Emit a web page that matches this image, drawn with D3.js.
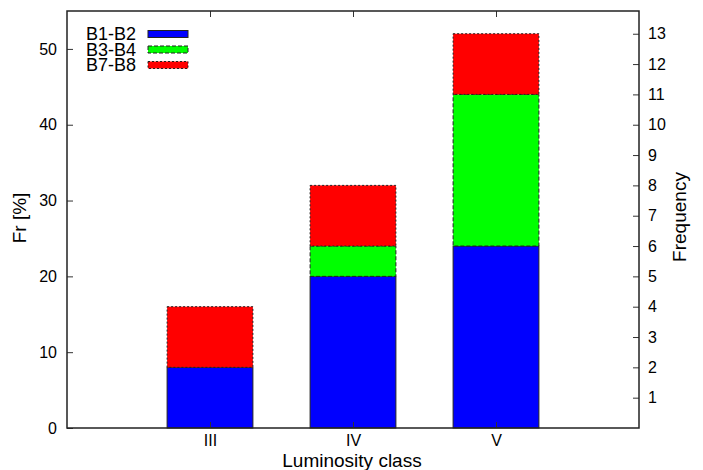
<!DOCTYPE html>
<html>
<head>
<meta charset="utf-8">
<script src="https://d3js.org/d3.v7.min.js"></script>
<style>
  html, body { margin: 0; padding: 0; background: #fff; }
  svg { display: block; font-family: "Liberation Sans", Arial, sans-serif; }
</style>
</head>
<body>
<svg id="chart" width="703" height="470"></svg>
<script>
// ---- data ----
const categories = ["III", "IV", "V"];
const seriesNames = ["B1-B2", "B3-B4", "B7-B8"];
const b12 = [8, 20, 24];   // Fr [%]
const b34 = [0, 4, 20];
const b78 = [8, 8, 8];
const leftTicks = [0, 10, 20, 30, 40, 50];
const rightTicks = [1, 2, 3, 4, 5, 6, 7, 8, 9, 10, 11, 12, 13];

// ---- layout ----
const svg = d3.select("#chart");
const L = 67, R = 639, T = 11, B = 428;
const colors = ["#0000ff", "#00ff00", "#ff0000"];
const dashes = [null, "4,2", "2,2"];

const x = d3.scaleLinear().domain([0, 4]).range([L, R]);
const y = d3.scaleLinear().domain([0, 55]).range([B, T]);
const yR = d3.scaleLinear().domain([0, 55 / 4]).range([B, T]);
const barW = (x(1) - x(0)) * 0.6;

const rows = categories.map((c, i) => ({ cat: c, idx: i + 1, "B1-B2": b12[i], "B3-B4": b34[i], "B7-B8": b78[i] }));
const stacked = d3.stack().keys(seriesNames)(rows);

svg.append("rect").attr("width", 703).attr("height", 470).attr("fill", "#fff");

// bars
stacked.forEach((layer, si) => {
  svg.append("g").selectAll("rect").data(layer).join("rect")
    .attr("x", d => x(d.data.idx) - barW / 2)
    .attr("width", barW)
    .attr("y", d => y(d[1]))
    .attr("height", d => y(d[0]) - y(d[1]))
    .attr("fill", colors[si])
    .attr("stroke", "#222")
    .attr("stroke-width", 1)
    .attr("stroke-dasharray", dashes[si]);
});

// axes
const fs = "16px";
const gL = svg.append("g").attr("transform", `translate(${L},0)`)
  .call(d3.axisLeft(y).tickValues(leftTicks).tickSize(-6).tickPadding(10));
const gR = svg.append("g").attr("transform", `translate(${R},0)`)
  .call(d3.axisRight(yR).tickValues(rightTicks).tickSize(-6).tickPadding(9));
const gB = svg.append("g").attr("transform", `translate(0,${B})`)
  .call(d3.axisBottom(x).tickValues([1, 2, 3]).tickFormat(d => categories[d - 1]).tickSize(-6).tickPadding(7));
const gT = svg.append("g").attr("transform", `translate(0,${T})`)
  .call(d3.axisTop(x).tickValues([1, 2, 3]).tickFormat("").tickSize(-6));
[gL, gR, gB, gT].forEach(g => {
  g.select(".domain").remove();
  g.selectAll("line").attr("stroke", "#333").attr("stroke-width", 1);
  g.selectAll("text").attr("font-size", fs).attr("fill", "#000")
    .attr("font-family", "'Liberation Sans', Arial, sans-serif");
});

// frame
svg.append("rect").attr("x", L).attr("y", T).attr("width", R - L).attr("height", B - T)
  .attr("fill", "none").attr("stroke", "#222").attr("stroke-width", 1.5);

// axis titles
svg.append("text").attr("x", (L + R) / 2 - 1).attr("y", 466.5).attr("text-anchor", "middle")
  .attr("font-size", "19px").text("Luminosity class");
svg.append("text").attr("transform", "translate(26,218) rotate(-90)").attr("text-anchor", "middle")
  .attr("font-size", "19px").text("Fr [%]");
svg.append("text").attr("transform", "translate(686,217) rotate(-90)").attr("text-anchor", "middle")
  .attr("font-size", "19px").text("Frequency");

// legend
const lg = svg.append("g");
seriesNames.forEach((n, i) => {
  const yy = 34 + i * 15.5;
  lg.append("text").attr("x", 86).attr("y", yy + 6).attr("font-size", "18px").text(n);
  lg.append("rect").attr("x", 148).attr("y", yy - 3.5).attr("width", 40).attr("height", 7)
    .attr("fill", colors[i]).attr("stroke", "#222").attr("stroke-width", 1)
    .attr("stroke-dasharray", dashes[i]);
});
</script>
</body>
</html>
